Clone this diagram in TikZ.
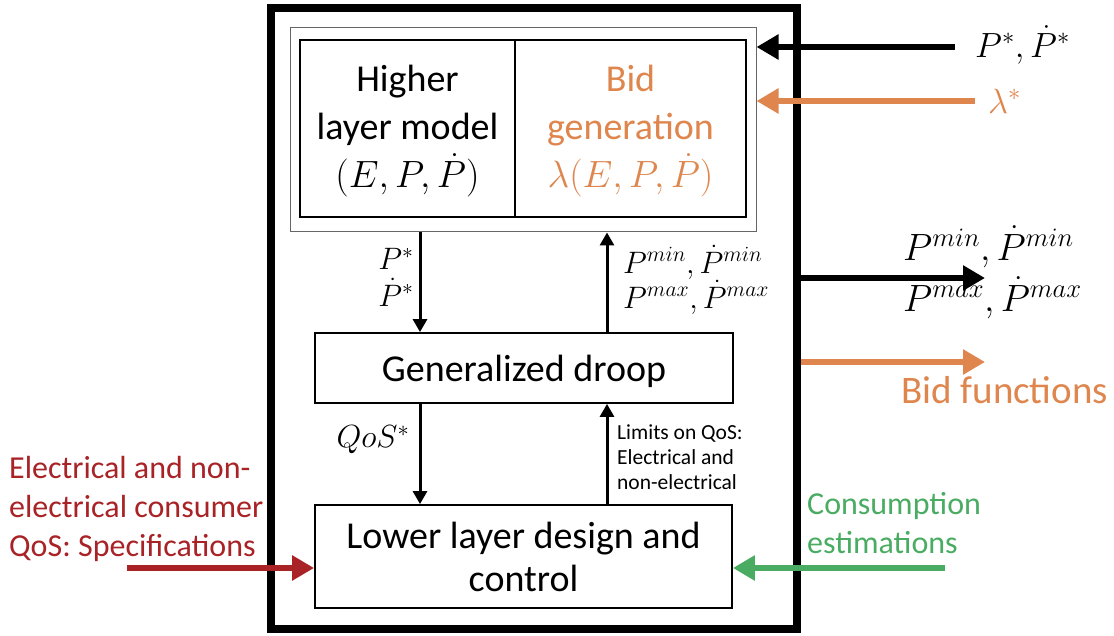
\RequirePackage{fix-cm}
\documentclass[tikz,border=0pt]{standalone}
\usepackage{fontspec}
\setmainfont{Carlito}
\usetikzlibrary{arrows.meta}
\definecolor{bidorange}{RGB}{222,134,78}
\definecolor{qosred}{RGB}{168,34,38}
\definecolor{estgreen}{RGB}{74,172,98}
\tikzset{
  box/.style={draw, line width=1.8pt, inner sep=0pt, align=center},
  bigtip/.style={-{Triangle[length=22pt,width=24pt]}},
  flow/.style={line width=6pt, bigtip},
  vflow/.style={line width=3pt, -{Triangle[length=13pt,width=14pt]}},
  bigtext/.style={font=\fontsize{38}{48}\selectfont, align=center, inner sep=0pt},
  midtext/.style={font=\fontsize{32}{39}\selectfont, align=left, inner sep=0pt},
  smalltext/.style={font=\fontsize{21.5}{25}\selectfont, align=left, inner sep=0pt},
  mathlbl/.style={font=\fontsize{31}{33}\selectfont, inner sep=0pt},
  bigmath/.style={font=\fontsize{38}{48}\selectfont, inner sep=0pt},
}
\begin{document}
\begin{tikzpicture}[x=1pt,y=-1pt]
\useasboundingbox (0,0) rectangle (1114,636);
% outer module
\node[draw, line width=8pt, minimum width=526pt, minimum height=621pt, inner sep=0pt] (outer) at (534,318.5) {};
% upper group
\node[draw=black!60, line width=1pt, minimum width=466pt, minimum height=204pt, inner sep=0pt] (frame) at (523,130) {};
\node[box, minimum width=215pt, minimum height=177pt] (hl) at (407.5,128.5) {};
\node[box, minimum width=231pt, minimum height=177pt] (bid) at (630.5,128.5) {};
\node[bigtext] (hltext) at ([yshift=-3pt]hl.center) {Higher\\layer model\\$(E,P,\dot P)$};
\node[bigtext, text=bidorange] (bidtext) at ([yshift=-3pt]bid.center) {Bid\\generation\\$\lambda(E,P,\dot P)$};
% middle and lower boxes
\node[box, minimum width=418pt, minimum height=70pt] (droop) at (524,368) {};
\node[font=\fontsize{38}{44}\selectfont, inner sep=0pt] (drooptext) at ([yshift=-3pt]droop.center) {Generalized droop};
\node[box, minimum width=417pt, minimum height=103pt, font=\fontsize{38}{43}\selectfont] (lower) at (523.5,556.5) {Lower layer design and\\control};
% helper coordinates
\coordinate (xa) at (420,0);
\coordinate (xb) at (607,0);
\coordinate (pin) at (955,47);
\coordinate (lin) at (975,101);
\coordinate (pout) at (985,278);
\coordinate (bout) at (985,362);
\coordinate (rin) at (127,568);
\coordinate (gin) at (945,568);
% internal connectors
\draw[vflow] (frame.south -| xa) -- (droop.north -| xa);
\draw[vflow] (droop.north -| xb) -- (frame.south -| xb);
\draw[vflow] (droop.south -| xa) -- (lower.north -| xa);
\draw[vflow] (lower.north -| xb) -- (droop.south -| xb);
% external connectors
\draw[flow] (pin) -- (frame.east |- pin);
\draw[flow, bidorange] (lin) -- (frame.east |- lin);
\draw[flow] (outer.east |- pout) -- (pout);
\draw[flow, bidorange] (outer.east |- bout) -- (bout);
\draw[flow, qosred] (rin) -- (lower.west |- rin);
\draw[flow, estgreen] (gin) -- (lower.east |- gin);
% labels
\node[mathlbl] (lp1) at (396,259) {$P^{*}$};
\node[mathlbl] (lp2) at (396,292) {$\dot P^{*}$};
\node[mathlbl, anchor=west] (lm1) at (623,262) {$P^{min},\dot P^{min}$};
\node[mathlbl, anchor=west] (lm2) at (623,297) {$P^{max},\dot P^{max}$};
\node[font=\fontsize{32}{33}\selectfont, inner sep=0pt] (lq) at (373,440) {$QoS^{*}$};
\node[smalltext, anchor=west] (llim) at (617,457) {Limits on QoS:\\Electrical and\\non-electrical};
\node[font=\fontsize{35}{40}\selectfont, inner sep=0pt, anchor=west] (lpin) at (975,45) {$P^{*},\dot P^{*}$};
\node[font=\fontsize{35}{40}\selectfont, inner sep=0pt, text=bidorange, anchor=west] (llam) at (988,101) {$\lambda^{*}$};
\node[bigmath, anchor=west] (lo1) at (903,247) {$P^{min},\dot P^{min}$};
\node[bigmath, anchor=west] (lo2) at (903,298) {$P^{max},\dot P^{max}$};
\node[font=\fontsize{39}{44}\selectfont, text=bidorange, anchor=west, inner sep=0pt] (lbid) at (901,390) {Bid functions};
\node[midtext, text=qosred, anchor=west] (lred) at (9,509) {Electrical and non-\\electrical consumer\\QoS: Specifications};
\node[midtext, text=estgreen, anchor=west] (lgreen) at (807,523) {Consumption\\estimations};
\end{tikzpicture}
\end{document}
